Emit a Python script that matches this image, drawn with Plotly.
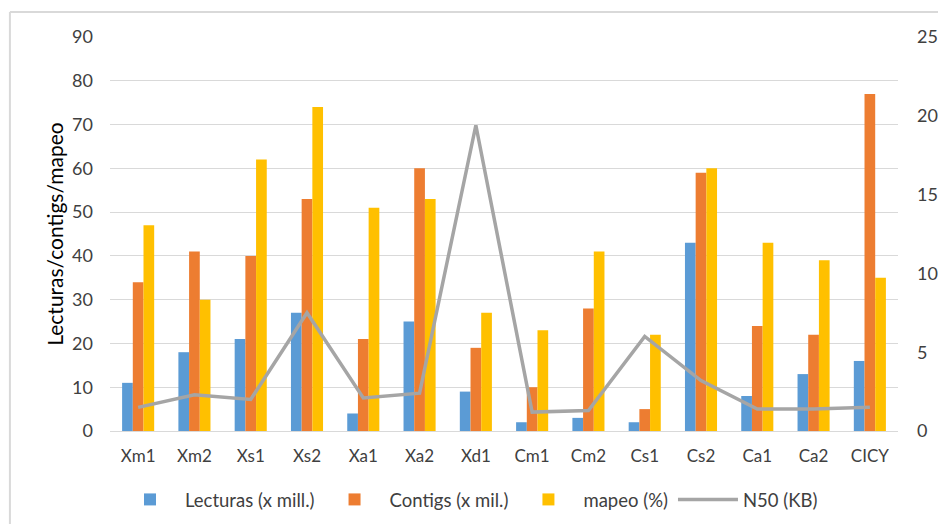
import plotly.graph_objects as go

# Sample groups
categories = ["Xm1", "Xm2", "Xs1", "Xs2", "Xa1", "Xa2", "Xd1",
              "Cm1", "Cm2", "Cs1", "Cs2", "Ca1", "Ca2", "CICY"]

# Left axis series
lecturas = [11, 18, 21, 27, 4, 25, 9, 2, 3, 2, 43, 8, 13, 16]
contigs = [34, 41, 40, 53, 21, 60, 19, 10, 28, 5, 59, 24, 22, 77]
mapeo = [47, 30, 62, 74, 51, 53, 27, 23, 41, 22, 60, 43, 39, 35]

# Right axis series
n50 = [1.5, 2.3, 2.0, 7.5, 2.1, 2.4, 19.4, 1.2, 1.3, 6.0, 3.2, 1.4, 1.4, 1.5]

FONT = "Lato, 'Open Sans', sans-serif"
TEXT = "#404040"
GRID = "#D9D9D9"

fig = go.Figure()
fig.add_trace(go.Bar(x=categories, y=lecturas, name="Lecturas (x mill.)",
                     marker=dict(color="#5B9BD5", line=dict(width=0))))
fig.add_trace(go.Bar(x=categories, y=contigs, name="Contigs (x mil.)",
                     marker=dict(color="#ED7D31", line=dict(width=0))))
fig.add_trace(go.Bar(x=categories, y=mapeo, name="mapeo (%)",
                     marker=dict(color="#FFC000", line=dict(width=0))))
fig.add_trace(go.Scatter(x=categories, y=n50, name="N50 (KB)", yaxis="y2",
                         mode="lines", line=dict(color="#A5A5A5", width=3.5)))

fig.update_layout(
    width=938, height=524,
    margin=dict(l=110, r=40, t=37, b=93, autoexpand=False),
    paper_bgcolor="white", plot_bgcolor="white",
    font=dict(family=FONT, size=18, color=TEXT),
    barmode="group", bargap=0.43, bargroupgap=0,
    showlegend=True,
    legend=dict(orientation="h", x=0.5, xanchor="center",
                xref="container", yref="container", y=0.046,
                yanchor="middle", font=dict(size=18.5, color=TEXT),
                itemwidth=60, traceorder="normal"),
    xaxis=dict(showgrid=False, showline=True, linecolor=GRID, linewidth=1,
               ticks="", tickfont=dict(size=17, color=TEXT),
               ticklabelstandoff=10, automargin=False),
    yaxis=dict(range=[0, 90], dtick=10, showgrid=True, gridcolor=GRID,
               gridwidth=1, zeroline=False, ticks="", automargin=False,
               tickfont=dict(size=18, color=TEXT), ticklabelstandoff=16,
               title=dict(text="Lecturas/contigs/mapeo", standoff=2,
                          font=dict(size=21, color="black"))),
    yaxis2=dict(range=[0, 25], dtick=5, overlaying="y", side="right",
                showgrid=False, zeroline=False, ticks="", automargin=False,
                tickfont=dict(size=18, color=TEXT), ticklabelstandoff=18),
    shapes=[
        dict(type="line", xref="paper", yref="paper",
             x0=-0.127, x1=1.06, y0=1.0635, y1=1.0635,
             line=dict(color=GRID, width=2)),
        dict(type="line", xref="paper", yref="paper",
             x0=-0.127, x1=-0.127, y0=1.0635, y1=-0.3,
             line=dict(color=GRID, width=2)),
    ],
)

fig.write_html("out.html")
